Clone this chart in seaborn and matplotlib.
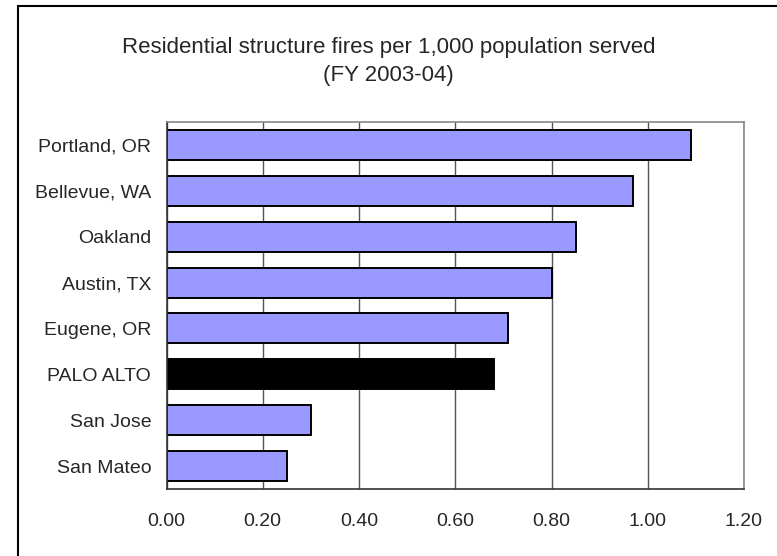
import pandas as pd
import matplotlib.pyplot as plt
import seaborn as sns
from matplotlib.patches import Rectangle

cities = ["Portland, OR", "Bellevue, WA", "Oakland", "Austin, TX",
          "Eugene, OR", "PALO ALTO", "San Jose", "San Mateo"]
fires = [1.09, 0.97, 0.85, 0.80, 0.71, 0.68, 0.30, 0.25]
x_ticks = [0.0, 0.2, 0.4, 0.6, 0.8, 1.0, 1.2]

df = pd.DataFrame({"City": cities, "Fires": fires})
palette = {c: ("#000000" if c == "PALO ALTO" else "#9999FF") for c in cities}

sns.set_style("white")
plt.rcParams["font.family"] = ["Liberation Sans", "DejaVu Sans"]

fig = plt.figure(figsize=(7.77, 5.56), dpi=100)
ax = fig.add_axes([166.5 / 777, 1 - 489 / 556, (744 - 166.5) / 777, (489 - 122) / 556])

sns.barplot(data=df, y="City", x="Fires", hue="City", palette=palette, legend=False,
            orient="h", width=0.655, edgecolor="black", linewidth=1.4, saturation=1, ax=ax)

ax.set_xlim(0, 1.2)
ax.set_ylim(len(cities) - 0.5, -0.5)
ax.set_xticks(x_ticks)
ax.set_xticklabels([f"{v:.2f}" for v in x_ticks], fontsize=14)
ax.set_yticks(range(len(cities)))
ax.set_yticklabels(cities, fontsize=14)
ax.set_yticks([i - 0.5 for i in range(len(cities) + 1)], minor=True)
ax.tick_params(axis="y", which="major", length=0, pad=11)
ax.tick_params(axis="y", which="minor", length=5, width=1, color="#333333", direction="out")
ax.tick_params(axis="x", which="major", length=5, width=1, color="#333333", direction="out", pad=12)
ax.set_xlabel("")
ax.set_ylabel("")

ax.set_axisbelow(True)
ax.xaxis.grid(True, color="#555555", linewidth=1)
ax.yaxis.grid(False)
for side in ["left", "bottom"]:
    ax.spines[side].set_color("#333333")
    ax.spines[side].set_linewidth(1.2)
for side in ["top", "right"]:
    ax.spines[side].set_color("#888888")
    ax.spines[side].set_linewidth(1.2)

fig.text(0.5, 1 - 47 / 556, "Residential structure fires per 1,000 population served",
         ha="center", va="center", fontsize=16)
fig.text(0.5, 1 - 76 / 556, "(FY 2003-04)", ha="center", va="center", fontsize=16)

fig.patches.append(Rectangle((18 / 777, -0.1), 1.2, 1.1 - 6 / 556, transform=fig.transFigure,
                             fill=False, edgecolor="black", linewidth=1.5))

fig.savefig("out.png", dpi=100)
